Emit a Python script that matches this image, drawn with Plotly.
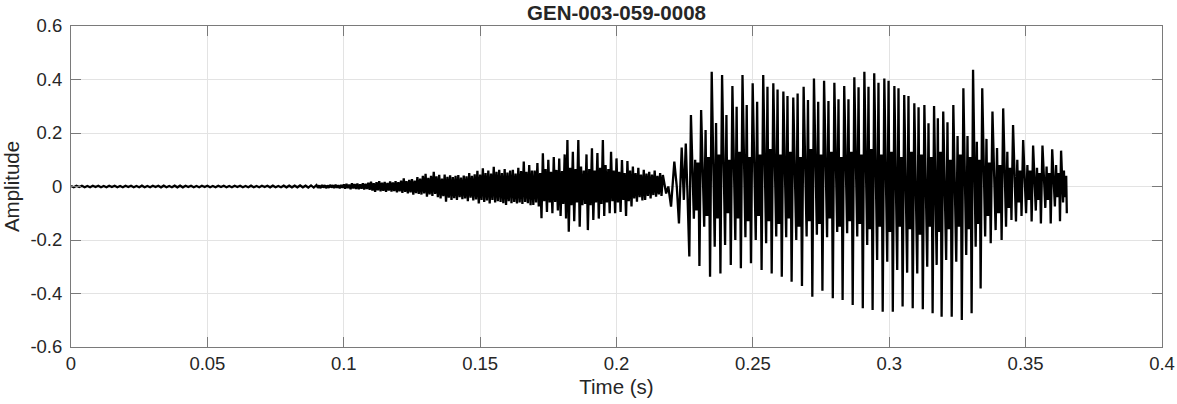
import plotly.graph_objects as go

# quiet floor, one value per 1 ms from 0 ms
quiet_step_ms = 1.0
quiet_amp = [0.002, -0.003, 0.003, -0.002, 0.003, -0.003, 0.002, -0.003, 0.003, -0.002,
             0.003, -0.003, 0.002, -0.003, 0.003, -0.002, 0.003, -0.003, 0.002, -0.003,
             0.003, -0.002, 0.003, -0.003, 0.002, -0.003, 0.003, -0.003, 0.002, -0.003,
             0.003, -0.002, 0.003, -0.003, 0.003, -0.003, 0.002, -0.003, 0.003, -0.003,
             0.003, -0.003, 0.003, -0.002, 0.003, -0.003, 0.002, -0.003, 0.003, -0.002,
             0.003, -0.003, 0.002, -0.003, 0.003, -0.002, 0.003, -0.003, 0.002, -0.003,
             0.003, -0.002, 0.003, -0.003, 0.002, -0.003, 0.003, -0.003, 0.002, -0.003,
             0.003, -0.002, 0.003, -0.003, 0.003, -0.003, 0.002, -0.003, 0.003, -0.003,
             0.003, -0.003, 0.003, -0.003, 0.004, -0.003, 0.003, -0.004, 0.004, -0.004]

# noisy part: upper / lower excursion per 1 ms, starting at 90 ms
noise_start_ms = 90
noise_hi = [0.005, 0.004, 0.006, 0.005, 0.004, 0.006, 0.005, 0.007, 0.005, 0.006,
            0.008, 0.010, 0.007, 0.012, 0.009, 0.011, 0.008, 0.012, 0.010, 0.014,
            0.018, 0.012, 0.016, 0.020, 0.014, 0.017, 0.013, 0.019, 0.015, 0.020,
            0.016, 0.022, 0.030, 0.020, 0.025, 0.028, 0.022, 0.035, 0.030, 0.040,
            0.047, 0.032, 0.040, 0.055, 0.038, 0.044, 0.030, 0.045, 0.036, 0.042,
            0.035, 0.040, 0.043, 0.033, 0.041, 0.038, 0.050, 0.040, 0.046, 0.059,
            0.045, 0.068, 0.050, 0.060, 0.048, 0.074, 0.055, 0.062, 0.050, 0.065,
            0.052, 0.060, 0.062, 0.048, 0.070, 0.058, 0.093, 0.055, 0.080, 0.060,
            0.060, 0.088, 0.050, 0.124, 0.065, 0.100, 0.055, 0.110, 0.062, 0.105,
            0.058, 0.120, 0.174, 0.070, 0.130, 0.065, 0.174, 0.075, 0.060, 0.120,
            0.065, 0.143, 0.060, 0.125, 0.070, 0.174, 0.080, 0.065, 0.130, 0.060,
            0.105, 0.055, 0.099, 0.050, 0.095, 0.060, 0.075, 0.050, 0.070, 0.045,
            0.062, 0.048, 0.055, 0.045, 0.060, 0.040, 0.050]
noise_lo = [-0.005, -0.006, -0.004, -0.006, -0.005, -0.004, -0.006, -0.005, -0.007, -0.005,
            -0.008, -0.006, -0.010, -0.007, -0.009, -0.010, -0.008, -0.011, -0.009, -0.012,
            -0.015, -0.020, -0.014, -0.018, -0.016, -0.020, -0.015, -0.019, -0.017, -0.022,
            -0.018, -0.024, -0.020, -0.026, -0.022, -0.030, -0.025, -0.028, -0.030, -0.026,
            -0.038, -0.030, -0.035, -0.028, -0.040, -0.045, -0.036, -0.057, -0.042, -0.050,
            -0.044, -0.050, -0.040, -0.047, -0.045, -0.055, -0.042, -0.052, -0.048, -0.063,
            -0.050, -0.058, -0.052, -0.063, -0.050, -0.060, -0.055, -0.058, -0.062, -0.069,
            -0.055, -0.062, -0.058, -0.063, -0.060, -0.065, -0.058, -0.062, -0.070, -0.069,
            -0.060, -0.075, -0.119, -0.055, -0.095, -0.060, -0.100, -0.058, -0.090, -0.110,
            -0.065, -0.120, -0.169, -0.070, -0.130, -0.060, -0.150, -0.070, -0.065, -0.163,
            -0.070, -0.125, -0.060, -0.120, -0.065, -0.110, -0.060, -0.100, -0.055, -0.100,
            -0.060, -0.095, -0.050, -0.110, -0.055, -0.075, -0.045, -0.057, -0.040, -0.052,
            -0.050, -0.035, -0.045, -0.032, -0.038, -0.030, -0.035]

# voicing onset
onset_ms = [217.0, 218.2, 219.0, 220.0, 221.2, 222.1, 222.9, 223.9, 224.7, 225.4, 226.0]
onset_amp = [0.043, -0.026, 0.0, -0.075, 0.093, 0.0, -0.138, 0.146, -0.050, 0.161, -0.020]

# voiced part: one entry per pitch period (time of the main trough)
pulse_ms = [226.7, 230.4, 234.3, 238.1, 241.9, 245.6, 249.3, 253.2, 256.9, 260.6,
            264.2, 268.0, 271.8, 275.5, 279.3, 282.9, 286.6, 290.3, 293.9, 297.6,
            301.3, 304.9, 308.6, 312.3, 315.9, 319.2, 322.9, 326.6, 330.2, 333.5,
            337.2, 341.2, 344.8, 348.5, 352.2, 355.6, 359.2, 362.6]
trough = [-0.262, -0.297, -0.337, -0.325, -0.293, -0.306, -0.287, -0.312, -0.325, -0.337,
          -0.356, -0.372, -0.412, -0.390, -0.418, -0.424, -0.443, -0.455, -0.462, -0.468,
          -0.468, -0.449, -0.455, -0.459, -0.474, -0.487, -0.487, -0.499, -0.474, -0.381,
          -0.212, -0.200, -0.125, -0.110, -0.131, -0.138, -0.138, -0.130]
peak = [0.267, 0.286, 0.429, 0.417, 0.376, 0.417, 0.386, 0.417, 0.386, 0.355,
        0.333, 0.373, 0.404, 0.395, 0.388, 0.376, 0.408, 0.429, 0.423, 0.404,
        0.376, 0.342, 0.311, 0.305, 0.301, 0.280, 0.305, 0.367, 0.436, 0.367,
        0.280, 0.292, 0.230, 0.174, 0.153, 0.153, 0.139, 0.134]
sec_trough = [-0.120, -0.150, -0.225, -0.219, -0.200, -0.190, -0.200, -0.212, -0.187, -0.190,
              -0.200, -0.187, -0.180, -0.190, -0.170, -0.175, -0.187, -0.219, -0.275, -0.281,
              -0.312, -0.322, -0.325, -0.300, -0.293, -0.275, -0.281, -0.256, -0.225, -0.187,
              -0.163, -0.150, -0.131, -0.100, -0.090, -0.080, -0.075, -0.060]
sec_peak = [0.100, 0.211, 0.237, 0.267, 0.298, 0.305, 0.317, 0.373, 0.363, 0.338,
            0.348, 0.323, 0.317, 0.320, 0.326, 0.326, 0.371, 0.373, 0.388, 0.395,
            0.367, 0.338, 0.296, 0.236, 0.255, 0.240, 0.189, 0.189, 0.167, 0.178,
            0.144, 0.130, 0.100, 0.080, 0.070, 0.075, 0.080, 0.060]
body_hi = [0.09, 0.11, 0.12, 0.10, 0.13, 0.11, 0.12, 0.14, 0.12, 0.13,
           0.11, 0.14, 0.12, 0.13, 0.11, 0.13, 0.12, 0.14, 0.12, 0.13,
           0.11, 0.13, 0.12, 0.11, 0.13, 0.10, 0.12, 0.11, 0.10, 0.09,
           0.08, 0.07, 0.06, 0.06, 0.05, 0.05, 0.05, 0.04]
body_lo = [-0.09, -0.11, -0.12, -0.10, -0.12, -0.13, -0.11, -0.13, -0.14, -0.12,
           -0.15, -0.13, -0.14, -0.12, -0.15, -0.13, -0.14, -0.16, -0.15, -0.17,
           -0.15, -0.16, -0.18, -0.15, -0.17, -0.16, -0.15, -0.16, -0.14, -0.11,
           -0.10, -0.08, -0.06, -0.05, -0.05, -0.05, -0.04, -0.04]
end_ms = 365.1
end_amp = -0.10

x_ticks = [0, 0.05, 0.1, 0.15, 0.2, 0.25, 0.3, 0.35, 0.4]
x_tick_labels = ["0", "0.05", "0.1", "0.15", "0.2", "0.25", "0.3", "0.35", "0.4"]
y_ticks = [-0.6, -0.4, -0.2, 0, 0.2, 0.4, 0.6]
y_tick_labels = ["-0.6", "-0.4", "-0.2", "0", "0.2", "0.4", "0.6"]

# assemble the polyline (times in ms)
t, y = [], []
for i, a in enumerate(quiet_amp):
    t.append(i * quiet_step_ms)
    y.append(a)
for i, (hi, lo) in enumerate(zip(noise_hi, noise_lo)):
    t += [noise_start_ms + i, noise_start_ms + i + 0.5]
    y += [hi, lo]
t += onset_ms
y += onset_amp

# where each sample sits inside a pitch period
shape_pos = [0.0, 0.16, 0.45, 0.58, 0.67, 0.75, 0.83, 0.91]
starts = pulse_ms + [end_ms]
for i in range(len(pulse_ms)):
    p = starts[i + 1] - starts[i]
    vals = [trough[i], peak[i], sec_trough[i], sec_peak[i],
            body_lo[i], body_hi[i], body_lo[i], body_hi[i]]
    for f, v in zip(shape_pos, vals):
        t.append(starts[i] + f * p)
        y.append(v)
t.append(end_ms)
y.append(end_amp)

t_s = [v / 1000.0 for v in t]

font_family = "Liberation Sans, Arial, Helvetica, sans-serif"
axis_col = "#7a7a7a"
text_col = "#262626"

fig = go.Figure()
fig.add_trace(go.Scatter(x=t_s, y=y, mode="lines",
                         line=dict(color="black", width=2.3),
                         hoverinfo="skip", showlegend=False))

fig.update_layout(
    width=1177, height=404,
    margin=dict(l=71, r=15, t=26, b=57, autoexpand=False),
    paper_bgcolor="white", plot_bgcolor="white",
    font=dict(family=font_family, color=text_col, size=18),
    title=dict(text="<b>GEN-003-059-0008</b>", x=0.5238, xanchor="center",
               y=0.969, yanchor="middle", yref="container", automargin=False,
               pad=dict(t=0, b=0), font=dict(size=20.5, color=text_col)),
)
fig.update_xaxes(
    range=[0, 0.4], tickvals=x_ticks, ticktext=x_tick_labels, automargin=False,
    ticks="inside", ticklen=10, tickcolor=axis_col, tickwidth=1,
    showline=True, linecolor=axis_col, linewidth=1, mirror="ticks",
    showgrid=True, gridcolor="#e3e3e3", gridwidth=1, zeroline=False,
    tickfont=dict(size=18.5, color=text_col),
    title=dict(text="Time (s)", font=dict(size=20.5, color=text_col), standoff=6),
)
fig.update_yaxes(
    range=[-0.6, 0.6], tickvals=y_ticks, ticktext=y_tick_labels, automargin=False,
    ticks="inside", ticklen=10, tickcolor=axis_col, tickwidth=1,
    showline=True, linecolor=axis_col, linewidth=1, mirror="ticks",
    showgrid=True, gridcolor="#e3e3e3", gridwidth=1, zeroline=False,
    tickfont=dict(size=18.5, color=text_col), ticklabelstandoff=4,
    title=dict(text="Amplitude", font=dict(size=20.5, color=text_col), standoff=6),
)

# the page's default body margin would push the figure 8 px in
fig.write_html("out.html", config={"displayModeBar": False},
               post_script="document.body.style.margin = '0';")
